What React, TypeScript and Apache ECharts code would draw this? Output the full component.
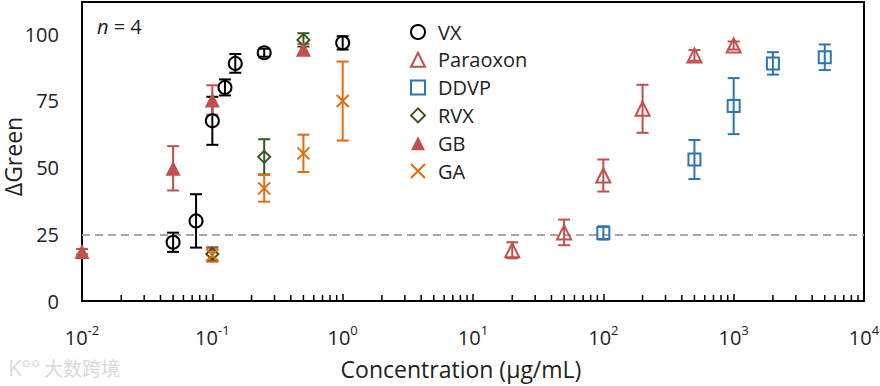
import React, { useEffect, useRef } from 'react';
import * as echarts from 'echarts';

const FONT = '"Open Sans", "Noto Sans", sans-serif';

const seriesNames = ['VX', 'Paraoxon', 'DDVP', 'RVX', 'GB', 'GA'];

const vxX = [0.05, 0.075, 0.1, 0.125, 0.15, 0.25, 1];
const vxY = [22, 30, 67.5, 80, 89, 93, 96.7];
const vxErr = [3.6, 10, 9, 3, 3.5, 1.5, 2.5];

const paraoxonX = [20, 50, 100, 200, 500, 1000];
const paraoxonY = [19, 25.7, 47, 72, 92, 95.7];
const paraoxonErr = [3, 4.8, 6, 9, 2, 1.5];

const ddvpX = [100, 500, 1000, 2000, 5000];
const ddvpY = [25.5, 53, 73, 89, 91.3];
const ddvpErr = [2.5, 7.3, 10.5, 4.2, 4.8];

const rvxX = [0.1, 0.25, 0.5];
const rvxY = [17.6, 54, 97.8];
const rvxErr = [2.5, 6.6, 2.5];

const gbX = [0.01, 0.05, 0.1, 0.5];
const gbY = [18.5, 49.7, 75.3, 94.3];
const gbErr = [1, 8.3, 5.5, 2];

const gaX = [0.1, 0.25, 0.5, 1];
const gaY = [17.2, 42.2, 55.3, 74.9];
const gaErr = [2.5, 5, 7, 14.8];

const yTicks = [0, 25, 50, 75, 100];
const thresholdValue = 25;
const minorMantissas = [2, 3, 4, 5, 6, 7, 8, 9];
const minorDecades = [0.01, 0.1, 1, 10, 100, 1000];

const COLORS = {
  VX: '#000000',
  Paraoxon: '#C0504D',
  DDVP: '#2E75B6',
  RVX: '#375623',
  GB: '#C0504D',
  GA: '#E46C0A',
};

const groups = [
  { name: 'VX', x: vxX, y: vxY, err: vxErr, symbol: 'circle', size: 13, filled: false },
  { name: 'Paraoxon', x: paraoxonX, y: paraoxonY, err: paraoxonErr, symbol: 'triangle', size: 14, filled: false },
  { name: 'DDVP', x: ddvpX, y: ddvpY, err: ddvpErr, symbol: 'rect', size: 12, filled: false },
  { name: 'RVX', x: rvxX, y: rvxY, err: rvxErr, symbol: 'diamond', size: 12, filled: false },
  { name: 'GB', x: gbX, y: gbY, err: gbErr, symbol: 'triangle', size: 15, filled: true },
  { name: 'GA', x: gaX, y: gaY, err: gaErr, symbol: 'path://M0,0L10,10M10,0L0,10', size: 12, filled: false },
];

export default function App() {
  const ref = useRef<HTMLDivElement>(null);

  useEffect(() => {
    if (!ref.current) return;
    const chart = echarts.init(ref.current, undefined, { renderer: 'svg' });

    const minorTicks: number[][] = [];
    minorDecades.forEach((d) => minorMantissas.forEach((m) => minorTicks.push([m * d, 0])));

    const series: any[] = [];

    groups.forEach((g) => {
      const color = (COLORS as any)[g.name];
      series.push({
        name: g.name + ' error',
        type: 'custom',
        z: 2,
        silent: true,
        encode: { x: 0, y: 1 },
        data: g.x.map((v, i) => [v, g.y[i], g.err[i]]),
        renderItem: (params: any, api: any) => {
          const x = api.value(0);
          const y = api.value(1);
          const e = api.value(2);
          const top = api.coord([x, y + e]);
          const bot = api.coord([x, y - e]);
          const hw = 6;
          const style = { stroke: color, lineWidth: 2, fill: null };
          return {
            type: 'group',
            children: [
              { type: 'line', shape: { x1: top[0], y1: top[1], x2: bot[0], y2: bot[1] }, style },
              { type: 'line', shape: { x1: top[0] - hw, y1: top[1], x2: top[0] + hw, y2: top[1] }, style },
              { type: 'line', shape: { x1: bot[0] - hw, y1: bot[1], x2: bot[0] + hw, y2: bot[1] }, style },
            ],
          };
        },
      });
    });

    groups.forEach((g, idx) => {
      const color = (COLORS as any)[g.name];
      const s: any = {
        name: g.name,
        type: 'scatter',
        z: 3,
        symbol: g.symbol,
        symbolSize: g.size,
        data: g.x.map((v, i) => [v, g.y[i]]),
        itemStyle: g.filled
          ? { color, borderColor: color, borderWidth: 0, opacity: 1 }
          : { color: 'rgba(255,255,255,0)', borderColor: color, borderWidth: 2, opacity: 1 },
      };
      if (idx === 0) {
        s.markLine = {
          silent: true,
          symbol: ['none', 'none'],
          label: { show: false },
          lineStyle: { color: '#A6A6A6', type: [8, 5], width: 2 },
          data: [{ yAxis: thresholdValue }],
          z: 1,
        };
      }
      series.push(s);
    });

    series.push({
      name: 'minor ticks',
      type: 'custom',
      silent: true,
      z: 4,
      encode: { x: 0, y: 1 },
      data: minorTicks,
      renderItem: (params: any, api: any) => {
        const p = api.coord([api.value(0), 0]);
        return {
          type: 'line',
          shape: { x1: p[0], y1: p[1], x2: p[0], y2: p[1] - 6 },
          style: { stroke: '#000', lineWidth: 1.5 },
        };
      },
    });

    chart.setOption({
      animation: false,
      backgroundColor: '#fff',
      textStyle: { fontFamily: FONT },
      grid: {
        left: 82,
        right: 16,
        top: 2,
        bottom: 85,
        containLabel: false,
        outerBoundsMode: 'none',
        show: true,
        borderColor: '#000',
        borderWidth: 2,
        backgroundColor: 'transparent',
      },
      legend: {
        orient: 'vertical',
        left: 405,
        top: 17,
        itemWidth: 14,
        itemHeight: 14,
        itemGap: 7.8,
        data: seriesNames,
        selectedMode: false,
        textStyle: { fontSize: 20, color: '#222', fontFamily: FONT, lineHeight: 20, padding: [0, 0, 0, 8] },
      },
      xAxis: {
        type: 'log',
        logBase: 10,
        min: 0.01,
        max: 10000,
        name: 'Concentration (\u00b5g/mL)',
        nameLocation: 'middle',
        nameGap: 56,
        nameTextStyle: { fontSize: 23, color: '#222', fontFamily: FONT, padding: [0, 24, 0, 0] },
        axisLine: { lineStyle: { color: '#000', width: 2 } },
        axisTick: { show: true, inside: true, length: 7, lineStyle: { color: '#000', width: 1.5 } },
        splitLine: { show: false },
        axisLabel: {
          margin: 22,
          formatter: (v: number) => {
            const e = Math.round(Math.log10(v));
            return '{b|10}{s|' + (e < 0 ? '-' + Math.abs(e) : String(e)) + '}';
          },
          rich: {
            b: { fontSize: 20, color: '#222', fontFamily: FONT, lineHeight: 24, verticalAlign: 'bottom' },
            s: { fontSize: 13, color: '#222', fontFamily: FONT, lineHeight: 24, verticalAlign: 'top' },
          },
        },
      },
      yAxis: {
        type: 'value',
        min: 0,
        max: 112,
        interval: 25,
        name: '\u0394Green',
        nameLocation: 'middle',
        nameGap: 57,
        nameMoveOverlap: false,
        nameTextStyle: { fontSize: 23, lineHeight: 24, color: '#222', fontFamily: FONT, padding: [0, 10, 0, 0] },
        axisLine: { show: true, lineStyle: { color: '#000', width: 2 } },
        axisTick: { show: false },
        splitLine: { show: false },
        axisLabel: {
          margin: 23,
          fontSize: 20,
          color: '#222',
          fontFamily: FONT,
          showMaxLabel: false,
          formatter: (v: number) => (yTicks.indexOf(v) >= 0 ? String(v) : ''),
        },
      },
      graphic: [
        {
          type: 'text',
          left: 97,
          top: 16,
          style: {
            text: '{i|n} = 4',
            fontSize: 20,
            fill: '#222',
            fontFamily: FONT,
            rich: { i: { fontStyle: 'italic', fontSize: 20, fill: '#222', fontFamily: FONT } },
          },
        },
        {
          type: 'text',
          left: 8,
          top: 356,
          style: {
            text: 'K\u00b0\u00b0',
            fontSize: 22,
            fill: '#dcdcdc',
            fontFamily: FONT,
          },
        },
        {
          type: 'text',
          left: 44,
          top: 358,
          style: {
            text: '\u5927\u6570\u8de8\u5883',
            fontSize: 19,
            fill: '#d9d9d9',
            fontFamily: '"Noto Sans CJK SC", sans-serif',
          },
        },
      ],
      series,
    });

    return () => chart.dispose();
  }, []);

  return (
    <div
      ref={ref}
      style={{ position: 'fixed', left: 0, top: 0, width: 880, height: 386 }}
    />
  );
}
